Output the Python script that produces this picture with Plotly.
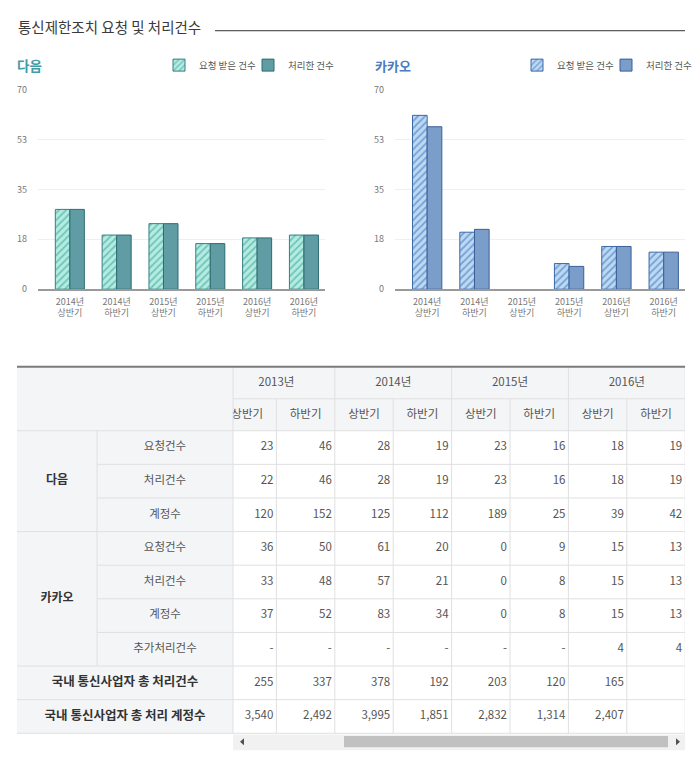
import plotly.graph_objects as go

# ---------------- data ----------------
years = ["2013년", "2014년", "2015년", "2016년"]
halves = ["상반기", "하반기"]

daum_req = [23, 46, 28, 19, 23, 16, 18, 19]
daum_proc = [22, 46, 28, 19, 23, 16, 18, 19]
daum_acct = [120, 152, 125, 112, 189, 25, 39, 42]
kakao_req = [36, 50, 61, 20, 0, 9, 15, 13]
kakao_proc = [33, 48, 57, 21, 0, 8, 15, 13]
kakao_acct = [37, 52, 83, 34, 0, 8, 15, 13]
kakao_extra = ["-", "-", "-", "-", "-", "-", 4, 4]
total_proc = [255, 337, 378, 192, 203, 120, 165, None]
total_acct = [3540, 2492, 3995, 1851, 2832, 1314, 2407, None]

chart_labels = ["2014년<br>상반기", "2014년<br>하반기", "2015년<br>상반기",
                "2015년<br>하반기", "2016년<br>상반기", "2016년<br>하반기"]
chart_start = 2  # charts show periods from 2014 상반기
y_tickvals = [0, 17.5, 35, 52.5, 70]
y_ticktext = ["0", "18", "35", "53", "70"]

legend_req = "요청 받은 건수"
legend_proc = "처리한 건수"
title_text = "통신제한조치 요청 및 처리건수"
company_daum = "다음"
company_kakao = "카카오"
item_labels = ["요청건수", "처리건수", "계정수", "요청건수", "처리건수", "계정수", "추가처리건수"]
total_labels = ["국내 통신사업자 총 처리건수", "국내 통신사업자 총 처리 계정수"]

# ---------------- layout constants ----------------
W, H = 700, 757
OFF = 8  # page body margin
FONT = "Noto Sans CJK KR"


def px(x):
    return (x - OFF) / W


def py(y):
    return 1 - (y - OFF) / H


DAUM_TEAL = "#3f9da5"
KAKAO_BLUE = "#4a7cc2"

fig = go.Figure()

# ---------- bar charts ----------
styles = {
    "daum": dict(
        req=dict(color="#b6ebe2", fg="#6fc6ba", line="#3a7d83"),
        proc=dict(color="#5f9ca3", line="#2e6c73"),
    ),
    "kakao": dict(
        req=dict(color="#bdd9f3", fg="#76a3d6", line="#3d68a6"),
        proc=dict(color="#7b9dca", line="#3b5f99"),
    ),
}


def nz(vals):
    return [v if v else None for v in vals]


for key, req, proc, xa, ya, leg in [
    ("daum", daum_req, daum_proc, "x", "y", "legend"),
    ("kakao", kakao_req, kakao_proc, "x2", "y2", "legend2"),
]:
    s = styles[key]
    fig.add_trace(go.Bar(
        x=chart_labels, y=nz(req[chart_start:]), name=legend_req,
        xaxis=xa, yaxis=ya, legend=leg,
        marker=dict(color=s["req"]["color"],
                    pattern=dict(shape="/", fgcolor=s["req"]["fg"], bgcolor=s["req"]["color"],
                                 size=5, solidity=0.35, fillmode="replace"),
                    line=dict(color=s["req"]["line"], width=1)),
        hoverinfo="skip",
    ))
    fig.add_trace(go.Bar(
        x=chart_labels, y=nz(proc[chart_start:]), name=legend_proc,
        xaxis=xa, yaxis=ya, legend=leg,
        marker=dict(color=s["proc"]["color"], line=dict(color=s["proc"]["line"], width=1)),
        hoverinfo="skip",
    ))

chart_y_dom = [py(287), py(84)]
xcommon = dict(range=[-0.68, 5.45], showgrid=False, showline=True, linecolor="#9a9a9a",
               linewidth=1.5, ticks="", tickfont=dict(size=9, color="#777"),
               ticklabelstandoff=3, fixedrange=True, type="category")
ycommon = dict(range=[0, 70], tickvals=y_tickvals, ticktext=y_ticktext, showgrid=True,
               gridcolor="#efefef", gridwidth=1, zeroline=False, showline=False,
               ticks="", tickfont=dict(size=9, color="#777"), ticklabelstandoff=10,
               fixedrange=True, domain=chart_y_dom)

layout_axes = dict(
    xaxis=dict(xcommon, domain=[px(38), px(325)], anchor="y"),
    yaxis=dict(ycommon, anchor="x"),
    xaxis2=dict(xcommon, domain=[px(395), px(685)], anchor="y2"),
    yaxis2=dict(ycommon, anchor="x2"),
    # full-page pixel grid for the table and decorations
    xaxis3=dict(domain=[0, 1], range=[OFF, W + OFF], visible=False, anchor="y3", fixedrange=True),
    yaxis3=dict(domain=[0, 1], range=[H + OFF, OFF], visible=False, anchor="x3", fixedrange=True),
    # scrolled data region of the table (clipped)
    xaxis4=dict(domain=[px(233), px(685)], range=[233, 685], visible=False, anchor="y4", fixedrange=True),
    yaxis4=dict(domain=[0, 1], range=[H + OFF, OFF], visible=False, anchor="x4", fixedrange=True),
)

# ---------- table geometry ----------
T_LEFT, T_COMP, T_ITEM, T_RIGHT = 17, 97, 233, 685
HDR_TOP, HDR_MID, HDR_BOT = 366, 398.5, 431
ROW_H = 34.2
COL0, COL_W = 218, 58.4
n_rows = 9
row_edges = [HDR_BOT + i * ROW_H for i in range(n_rows + 1)]
col_edges = [COL0 + i * COL_W for i in range(9)]

LINE_C = "#e0e0e0"
BG_C = "#f4f5f7"
shapes = []

# backgrounds
shapes.append(dict(type="rect", xref="x3", yref="y3", x0=T_LEFT, x1=T_ITEM, y0=HDR_TOP, y1=row_edges[-1],
                   fillcolor=BG_C, line=dict(width=0), layer="below"))
shapes.append(dict(type="rect", xref="x4", yref="y4", x0=col_edges[0], x1=col_edges[-1] + 5, y0=HDR_TOP, y1=HDR_BOT,
                   fillcolor=BG_C, line=dict(width=0), layer="below"))

# horizontal lines
group_breaks = {0, 3, 7, 8, 9}
for i, y in enumerate(row_edges):
    x0 = T_LEFT if i in group_breaks else T_COMP
    shapes.append(dict(type="line", xref="x3", yref="y3", x0=x0, x1=T_RIGHT, y0=y, y1=y,
                       line=dict(color=LINE_C, width=1)))
shapes.append(dict(type="line", xref="x4", yref="y4", x0=col_edges[0], x1=col_edges[-1] + 5,
                   y0=HDR_MID, y1=HDR_MID, line=dict(color=LINE_C, width=1)))
# vertical lines
shapes.append(dict(type="line", xref="x3", yref="y3", x0=T_COMP, x1=T_COMP, y0=row_edges[0], y1=row_edges[7],
                   line=dict(color=LINE_C, width=1)))
shapes.append(dict(type="line", xref="x3", yref="y3", x0=T_ITEM, x1=T_ITEM, y0=HDR_TOP, y1=row_edges[-1],
                   line=dict(color=LINE_C, width=1)))
for j, x in enumerate(col_edges):
    y0 = HDR_TOP if j % 2 == 0 else HDR_MID
    shapes.append(dict(type="line", xref="x4", yref="y4", x0=x, x1=x, y0=y0, y1=row_edges[-1],
                       line=dict(color=LINE_C, width=1)))
# top border
shapes.append(dict(type="line", xref="x3", yref="y3", x0=T_LEFT, x1=T_RIGHT, y0=HDR_TOP, y1=HDR_TOP,
                   line=dict(color="#7a7a7a", width=2)))

# title underline
shapes.append(dict(type="line", xref="x3", yref="y3", x0=215, x1=685, y0=24, y1=24,
                   line=dict(color="#333", width=1)))

# scrollbar
SB_TOP, SB_BOT = 740, 756
shapes.append(dict(type="rect", xref="x3", yref="y3", x0=T_ITEM, x1=T_RIGHT, y0=SB_TOP, y1=SB_BOT,
                   fillcolor="#f1f1f1", line=dict(width=0)))
shapes.append(dict(type="rect", xref="x3", yref="y3", x0=344, x1=668, y0=741.5, y1=753,
                   fillcolor="#c1c1c1", line=dict(width=0)))
shapes.append(dict(type="path", xref="x3", yref="y3", path="M 244 744 L 240 747.5 L 244 751 Z",
                   fillcolor="#505050", line=dict(width=0)))
shapes.append(dict(type="path", xref="x3", yref="y3", path="M 676 744 L 680 747.5 L 676 751 Z",
                   fillcolor="#505050", line=dict(width=0)))

# ---------- table text ----------
def fmt(v):
    if v is None:
        return ""
    if isinstance(v, str):
        return v
    return f"{v:,}"


data_rows = [daum_req, daum_proc, daum_acct, kakao_req, kakao_proc, kakao_acct,
             kakao_extra, total_proc, total_acct]
num_x, num_y, num_t = [], [], []
for r, row in enumerate(data_rows):
    yc = (row_edges[r] + row_edges[r + 1]) / 2
    for c, v in enumerate(row):
        num_x.append(col_edges[c + 1] - 3)
        num_y.append(yc)
        num_t.append(fmt(v))
fig.add_trace(go.Scatter(x=num_x, y=num_y, text=num_t, mode="text", textposition="middle left",
                         textfont=dict(size=11.5, color="#555", family=FONT), xaxis="x4", yaxis="y4",
                         showlegend=False, hoverinfo="skip", cliponaxis=True))

# headers
hx, hy, ht = [], [], []
for i, yr in enumerate(years):
    hx.append((col_edges[2 * i] + col_edges[2 * i + 2]) / 2)
    hy.append((HDR_TOP + HDR_MID) / 2)
    ht.append(yr)
    for k, hv in enumerate(halves):
        hx.append((col_edges[2 * i + k] + col_edges[2 * i + k + 1]) / 2)
        hy.append((HDR_MID + HDR_BOT) / 2)
        ht.append(hv)
fig.add_trace(go.Scatter(x=hx, y=hy, text=ht, mode="text", textposition="middle center",
                         textfont=dict(size=11.5, color="#555", family=FONT), xaxis="x4", yaxis="y4",
                         showlegend=False, hoverinfo="skip", cliponaxis=True))

# left labels
lx, ly, lt = [], [], []
for r, lab in enumerate(item_labels):
    lx.append((T_COMP + T_ITEM) / 2)
    ly.append((row_edges[r] + row_edges[r + 1]) / 2)
    lt.append(lab)
fig.add_trace(go.Scatter(x=lx, y=ly, text=lt, mode="text", textposition="middle center",
                         textfont=dict(size=11.5, color="#555", family=FONT), xaxis="x3", yaxis="y3",
                         showlegend=False, hoverinfo="skip"))
bx = [(T_LEFT + T_COMP) / 2, (T_LEFT + T_COMP) / 2]
by = [(row_edges[0] + row_edges[3]) / 2, (row_edges[3] + row_edges[7]) / 2]
bt = ["<b>" + t + "</b>" for t in [company_daum, company_kakao]]
fig.add_trace(go.Scatter(x=bx, y=by, text=bt, mode="text", textposition="middle center",
                         textfont=dict(size=12, color="#333", family=FONT), xaxis="x3", yaxis="y3",
                         showlegend=False, hoverinfo="skip"))
tx = [(T_LEFT + T_ITEM) / 2, (T_LEFT + T_ITEM) / 2]
ty = [(row_edges[7] + row_edges[8]) / 2, (row_edges[8] + row_edges[9]) / 2]
tt = ["<b>" + t + "</b>" for t in total_labels]
fig.add_trace(go.Scatter(x=tx, y=ty, text=tt, mode="text", textposition="middle center",
                         textfont=dict(size=12.5, color="#333", family=FONT), xaxis="x3", yaxis="y3",
                         showlegend=False, hoverinfo="skip"))

# ---------- annotations ----------
annotations = [
    dict(text=title_text, x=16, y=20, xref="x3", yref="y3", xanchor="left", yanchor="middle",
         showarrow=False, font=dict(size=14.5, color="#3a3a3a", family=FONT)),
    dict(text="<b>" + company_daum + "</b>", x=15, y=59, xref="x3", yref="y3", xanchor="left",
         yanchor="middle", showarrow=False, font=dict(size=13.5, color=DAUM_TEAL, family=FONT)),
    dict(text="<b>" + company_kakao + "</b>", x=373, y=59, xref="x3", yref="y3", xanchor="left",
         yanchor="middle", showarrow=False, font=dict(size=13, color=KAKAO_BLUE, family=FONT)),
]

legend_common = dict(orientation="h", yanchor="middle", xanchor="left",
                     font=dict(size=9.5, color="#555", family=FONT),
                     bgcolor="rgba(0,0,0,0)", itemwidth=30, traceorder="normal", itemclick=False,
                     itemdoubleclick=False, entrywidth=44, entrywidthmode="pixels")

fig.update_layout(
    width=W, height=H, margin=dict(l=0, r=0, t=0, b=0),
    paper_bgcolor="white", plot_bgcolor="rgba(0,0,0,0)",
    font=dict(family=FONT, color="#555"),
    barmode="group", bargap=0.38, bargroupgap=0,
    showlegend=True,
    legend=dict(legend_common, x=px(159), y=py(59)),
    legend2=dict(legend_common, x=px(517), y=py(59)),
    shapes=shapes, annotations=annotations,
    **layout_axes,
)

fig.write_html("out.html")
